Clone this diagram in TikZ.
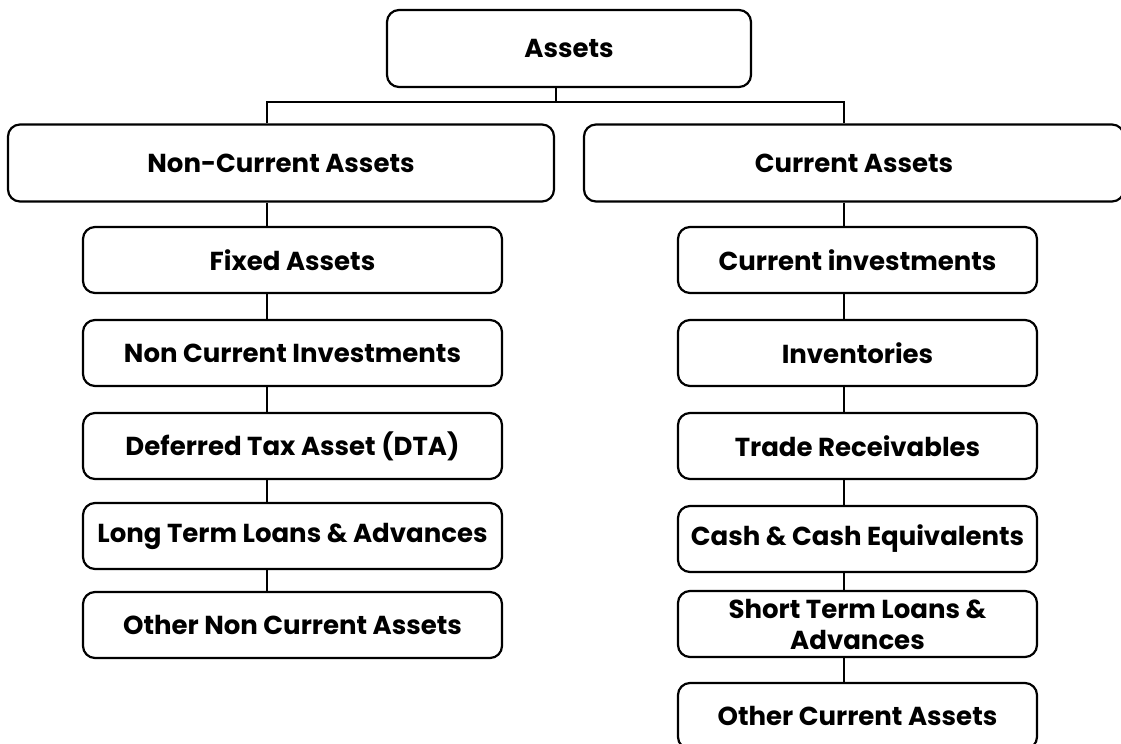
\documentclass[tikz,border=0pt]{standalone}
\usepackage{fontspec}
\setmainfont{Poppins}
\usetikzlibrary{positioning}

\begin{document}
\begin{tikzpicture}[x=0.5pt, y=-0.5pt,
  box/.style={draw, line width=1.1pt, rounded corners=6pt, align=center, inner sep=0pt,
    font=\bfseries\fontsize{13}{15.5}\selectfont},
  topbox/.style={box, minimum height=38.5pt},
  leftbox/.style={box, minimum width=209.5pt, minimum height=33pt},
  rightbox/.style={box, minimum width=179.5pt, minimum height=33pt},
  link/.style={line width=1.1pt}]
\useasboundingbox (0,0) rectangle (1121,744);

% top levels
\node[topbox, minimum width=182pt] (assets) at (569,48.5) {Assets};
\node[topbox, minimum width=273pt] (nca) at (281,163) {Non-Current Assets};
\node[topbox, minimum width=270pt] (ca) at (854,163) {Current Assets};
\coordinate (hub) at (556,102);
\coordinate (lc) at (267,0);
\coordinate (rc) at (844,0);

% non-current side
\node[leftbox] (fa)  at (292.5,260) {Fixed Assets};
\node[leftbox] (nci) at (292.5,353) {Non Current Investments};
\node[leftbox] (dta) at (292.5,446) {Deferred Tax Asset (DTA)};
\node[leftbox] (ltl) at (292.5,536) {Long Term Loans \& Advances};
\node[leftbox] (onc) at (292.5,625) {Other Non Current Assets};

% current side
\node[rightbox] (ci)  at (857.5,260) {Current investments};
\node[rightbox] (inv) at (857.5,353) {Inventories};
\node[rightbox] (tr)  at (857.5,446) {Trade Receivables};
\node[rightbox] (cce) at (857.5,539) {Cash \& Cash Equivalents};
\node[rightbox] (stl) at (857.5,624) {Short Term Loans \&\\ Advances};
\node[rightbox] (oca) at (857.5,716) {Other Current Assets};

\draw[link] (assets.south -| hub) -- (hub);
\draw[link] (nca.north -| lc) |- (hub) -| (ca.north -| rc);
\foreach \a/\b in {nca/fa, fa/nci, nci/dta, dta/ltl, ltl/onc}
  \draw[link] (\a.south -| lc) -- (\b.north -| lc);
\foreach \a/\b in {ca/ci, ci/inv, inv/tr, tr/cce, cce/stl, stl/oca}
  \draw[link] (\a.south -| rc) -- (\b.north -| rc);
\end{tikzpicture}
\end{document}
